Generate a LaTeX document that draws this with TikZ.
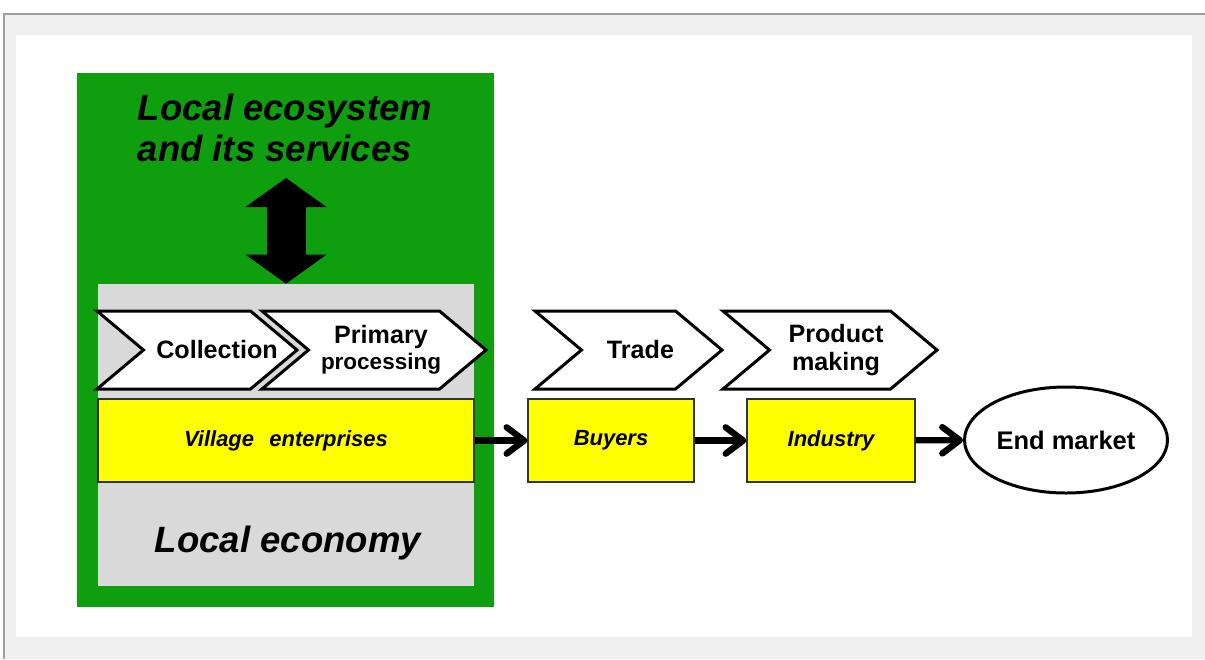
\documentclass[tikz,border=0pt]{standalone}
\usepackage{fontspec}
\setmainfont{Liberation Sans}
\definecolor{eco}{HTML}{0E9E0E}
\definecolor{econ}{HTML}{D9D9D9}
\definecolor{firm}{HTML}{FFFF00}
\definecolor{frame}{HTML}{F0F0F0}
\definecolor{frameline}{HTML}{A0A0A0}
\usepackage{tikz}
\usetikzlibrary{positioning, shapes.geometric, shapes.symbols, arrows.meta}

\begin{document}
\begin{tikzpicture}[
  chev/.style={signal, signal from=west, signal to=east, signal pointer angle=80,
               draw=black, line width=1.7pt, fill=white, minimum height=1.56cm, inner sep=0pt},
  chevtxt/.style={font=\fontsize{14.3}{15.5}\selectfont\bfseries, align=center, inner sep=0pt},
  firmbox/.style={draw=black!80, line width=0.7pt, fill=firm, minimum height=1.66cm,
                  font=\fontsize{12.5}{14}\selectfont\bfseries\itshape},
  flow/.style={line width=3.6pt, -{Straight Barb[length=10pt, width=15pt, round]}},
  biarrow/.style={line width=0.78cm,
                  {Triangle[length=0.58cm, width=1.62cm, line width=0pt]}-{Triangle[length=0.58cm, width=1.62cm, line width=0pt]}},
]
% frame
\useasboundingbox (0,0) rectangle (24.1,-13.18);
\fill[white] (0,0) rectangle (24.1,-13.18);
\fill[frame] (0.08,-0.28) rectangle (24.1,-13.18);
\draw[frameline, line width=1.2pt] (0.08,-13.18) -- (0.08,-0.28) -- (24.1,-0.28);
\fill[white] (0.32,-0.70) rectangle (23.84,-12.74);

% local ecosystem and local economy
\node[fill=eco, inner sep=0pt, minimum width=8.34cm, minimum height=10.68cm] (ecosys) at (5.71,-6.80) {};
\node[font=\fontsize{20.8}{23.3}\selectfont\bfseries\itshape, align=left] (ecotitle) at (5.70,-2.56)
  {Local ecosystem\\and its services};
\node[fill=econ, inner sep=0pt, minimum width=7.52cm, minimum height=6.04cm] (econ) at (5.72,-8.70) {};
\node[font=\fontsize{20.8}{23}\selectfont\bfseries\itshape] (econtitle) at (5.76,-10.86) {Local economy};
\coordinate (arrtop) at (5.72,-3.56);
\draw[biarrow] (arrtop) -- (econ.north);

% value chain steps
\node[chev, minimum width=4.0cm] (coll) at (3.94,-7.00) {};
\node[chev, minimum width=4.48cm] (prim) at (7.48,-7.00) {};
\node[chev, minimum width=3.74cm] (trade) at (12.57,-7.00) {};
\node[chev, minimum width=4.28cm] (prod) at (16.60,-7.00) {};
\node[chevtxt] (colltxt) at ([xshift=0.40cm]coll.center) {Collection};
\node[chevtxt] (primtxt) at ([xshift=0.14cm]prim.center)
  {Primary\\[-1pt]{\fontsize{12.8}{14}\selectfont processing}};
\node[chevtxt] (tradetxt) at ([xshift=0.24cm]trade.center) {Trade};
\node[chevtxt] (prodtxt) at ([xshift=0.12cm]prod.center) {Product\\making};

% actors
\node[firmbox, minimum width=7.52cm] (vill) at (5.72,-8.81) {Village\hspace{0.7em}enterprises};
\node[firmbox, minimum width=3.32cm] (buy) at (12.22,-8.81) {Buyers};
\node[firmbox, minimum width=3.36cm] (ind) at (16.62,-8.81) {Industry};
\node[ellipse, draw, line width=1.7pt, fill=white, inner sep=0pt, minimum width=4.06cm, minimum height=2.12cm,
      font=\fontsize{14.5}{16}\selectfont\bfseries] (mkt) at (21.32,-8.80) {End market};

\draw[flow] (vill) -- (buy);
\draw[flow] (buy) -- (ind);
\draw[flow] (ind) -- (mkt);
\end{tikzpicture}
\end{document}
